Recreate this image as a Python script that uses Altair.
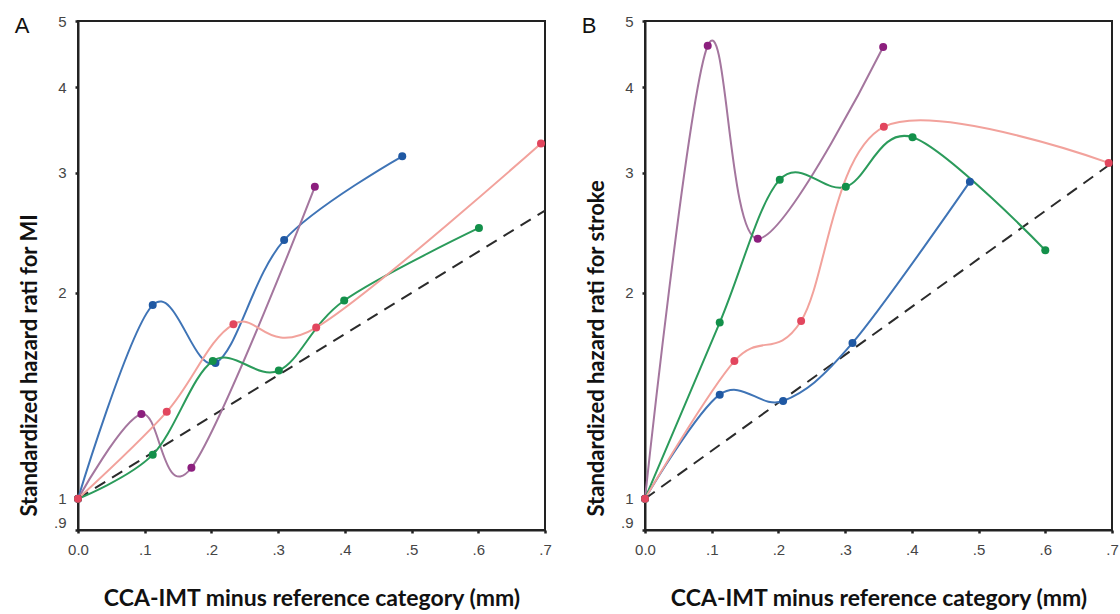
import altair as alt
import pandas as pd

# ---------------- data ----------------
series_names = ["Blue", "Purple", "Green", "Pink"]

# Panel A: MI
a_blue_x = [0.0, 0.112, 0.206, 0.309, 0.486]
a_blue_y = [1.0, 1.92, 1.58, 2.39, 3.17]
a_purple_x = [0.0, 0.095, 0.170, 0.355]
a_purple_y = [1.0, 1.33, 1.11, 2.86]
a_green_x = [0.0, 0.112, 0.202, 0.301, 0.399, 0.601]
a_green_y = [1.0, 1.16, 1.59, 1.54, 1.95, 2.49]
a_pink_x = [0.0, 0.133, 0.233, 0.357, 0.694]
a_pink_y = [1.0, 1.34, 1.80, 1.78, 3.31]
a_ref_x = [0.0, 0.7]
a_ref_y = [1.0, 2.64]

# Panel B: stroke
b_blue_x = [0.0, 0.112, 0.207, 0.311, 0.487]
b_blue_y = [1.0, 1.42, 1.39, 1.69, 2.91]
b_purple_x = [0.0, 0.094, 0.169, 0.357]
b_purple_y = [1.0, 4.60, 2.40, 4.58]
b_green_x = [0.0, 0.112, 0.202, 0.301, 0.401, 0.600]
b_green_y = [1.0, 1.81, 2.93, 2.86, 3.38, 2.31]
b_pink_x = [0.0, 0.134, 0.234, 0.358, 0.695]
b_pink_y = [1.0, 1.59, 1.82, 3.50, 3.10]
b_ref_x = [0.0, 0.7]
b_ref_y = [1.0, 3.10]

x_ticks = [0.0, 0.1, 0.2, 0.3, 0.4, 0.5, 0.6, 0.7]
y_ticks = [0.9, 1, 2, 3, 4, 5]
x_title = "CCA-IMT minus reference category (mm)"
a_y_title = "Standardized hazard rati for MI"
b_y_title = "Standardized hazard rati for stroke"

line_colors = ["#3f74b6", "#a4769e", "#2b9b5b", "#f2a29c"]
marker_colors = ["#1f58a3", "#8c1f7e", "#13904a", "#e2465e"]


def build_df(groups):
    rows = []
    for name, xs, ys in groups:
        for i, (xv, yv) in enumerate(zip(xs, ys)):
            rows.append({"series": name, "x": xv, "y": yv, "i": i})
    return pd.DataFrame(rows)


def enc_xy(ytitle):
    x = alt.X(
        "x:Q",
        scale=alt.Scale(domain=[0, 0.7], nice=False, zero=False),
        axis=alt.Axis(
            values=x_ticks,
            labelExpr="datum.value == 0 ? '0.0' : replace(format(datum.value, '.1f'), '0.', '.')",
            title=x_title,
            titleFontSize=23,
            labelFlush=False,
            labelOverlap=False,
            labelPadding=9,
            titlePadding=30,
        ),
    )
    y = alt.Y(
        "y:Q",
        scale=alt.Scale(type="log", domain=[0.9, 5], nice=False, zero=False),
        axis=alt.Axis(
            values=y_ticks,
            labelExpr="datum.value < 0.95 ? '.9' : format(datum.value, 'd')",
            title=ytitle,
            titleFontSize=22,
            titleAnchor="start",
            titleY=495,
            labelFlush=False,
            labelOverlap=False,
            labelPadding=9,
            titlePadding=12,
            labelBaseline={"condition": {"test": "datum.value < 0.95", "value": "bottom"}, "value": "middle"},
        ),
    )
    return x, y


def panel(groups, ref_x, ref_y, letter, ytitle):
    df = build_df(groups)
    ref_df = pd.DataFrame({"x": ref_x, "y": ref_y})
    x, y = enc_xy(ytitle)
    ref = alt.Chart(ref_df).mark_line(
        strokeDash=[12, 8], color="#2b2b2b", strokeWidth=2
    ).encode(x=x, y=y)
    lines = alt.Chart(df).mark_line(interpolate="cardinal", strokeWidth=2).encode(
        x=x,
        y=y,
        order="i:Q",
        color=alt.Color("series:N", scale=alt.Scale(domain=series_names, range=line_colors), legend=None),
    )
    pts = alt.Chart(df).mark_circle(size=64, opacity=1).encode(
        x=x,
        y=y,
        color=alt.Color("series:N", scale=alt.Scale(domain=series_names, range=marker_colors), legend=None),
    )
    txt = alt.Chart(pd.DataFrame({"t": [letter]})).mark_text(
        font="Liberation Sans", fontSize=22, align="center", baseline="middle", color="#111"
    ).encode(text="t:N", x=alt.value(-56), y=alt.value(5))
    return (
        alt.layer(ref, lines, pts, txt)
        .resolve_scale(color="independent")
        .properties(width=467, height=509)
    )


panel_a = panel(
    [("Blue", a_blue_x, a_blue_y), ("Purple", a_purple_x, a_purple_y),
     ("Green", a_green_x, a_green_y), ("Pink", a_pink_x, a_pink_y)],
    a_ref_x, a_ref_y, "A", a_y_title,
)
panel_b = panel(
    [("Blue", b_blue_x, b_blue_y), ("Purple", b_purple_x, b_purple_y),
     ("Green", b_green_x, b_green_y), ("Pink", b_pink_x, b_pink_y)],
    b_ref_x, b_ref_y, "B", b_y_title,
)

chart = (
    alt.hconcat(panel_a, panel_b, spacing=100, bounds="flush")
    .properties(padding={"left": 13, "top": 13, "right": 0, "bottom": 0}, background="white")
    .configure_view(stroke="#222", strokeWidth=2)
    .configure_axis(
        grid=False,
        domainColor="#222",
        domainWidth=2,
        tickColor="#222",
        tickSize=3,
        tickWidth=2.5,
        labelColor="#454545",
        labelFont="Liberation Sans",
        labelFontSize=15,
        titleFont="Lato",
        titleFontWeight="bold",
        titleColor="#111",
    )
)

chart.save("out.html", embed_options={"renderer": "svg", "actions": False})
